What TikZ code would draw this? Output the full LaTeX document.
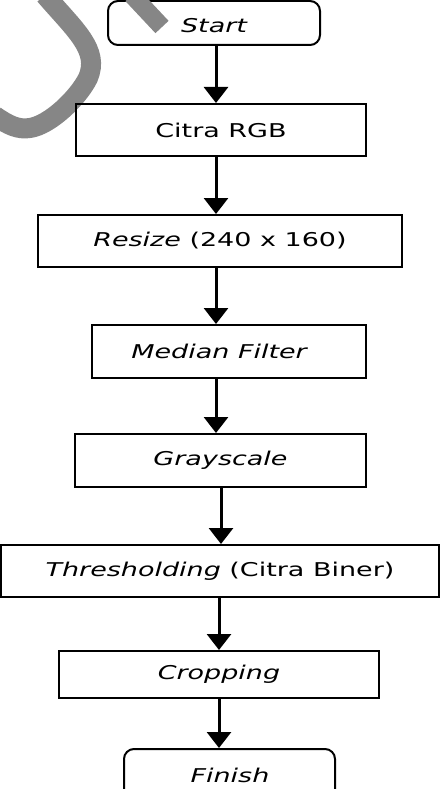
\documentclass[tikz,border=0pt]{standalone}
\usepackage{fontspec}
\setmainfont{DejaVu Sans}
\usetikzlibrary{arrows.meta}
\newcommand{\wtxt}[1]{\scalebox{1.42}[1]{#1}}
\tikzset{
  box/.style={draw=black, line width=2pt, rectangle, inner sep=0pt, font=\fontsize{19}{22}\selectfont},
  term/.style={box, rounded corners=10pt},
  lbl/.style={inner sep=0pt, font=\fontsize{19}{22}\selectfont},
  arr/.style={line width=3pt, -{Triangle[width=24pt,length=16pt]}},
  wmark/.style={draw=gray!95, line width=20pt}
}
\begin{document}
\begin{tikzpicture}[x=1pt,y=-1pt]
\useasboundingbox (0,0) rectangle (442,789);
\clip (0,0) rectangle (442,789);
\fill[white] (0,0) rectangle (442,789);
% watermark stroke
\draw[wmark] (45,-5) .. controls (75,30) and (100,50) .. (88,78) .. controls (78,98) and (50,125) .. (30,128) .. controls (18,130) and (8,125) .. (-5,116);
\node[term, minimum width=212pt, minimum height=44pt] (start) at (214,23) {};
\node[lbl, anchor=base] (startt) at (214,33) {\wtxt{\itshape Start}};
\draw[wmark, line width=18pt] (132,-5) -- (162,27);
\node[box, minimum width=290pt, minimum height=52pt] (cit) at (221,130) {\wtxt{Citra RGB}};
\node[box, minimum width=364pt, minimum height=52pt] (res) at (220,241) {\wtxt{\textit{Resize} (240 x 160)}};
\node[box, minimum width=274pt, minimum height=53pt] (med) at (229,351.5) {\wtxt{\itshape Median Filter\hspace{14pt}}};
\node[box, minimum width=291pt, minimum height=53pt] (gray) at (220.5,460.5) {\wtxt{\itshape Grayscale}};
\node[box, minimum width=438pt, minimum height=52pt] (thr) at (220,571) {\wtxt{\textit{Thresholding} (Citra Biner)}};
\node[box, minimum width=320pt, minimum height=47pt] (crop) at (219,674.5) {\wtxt{\itshape Cropping}};
\node[term, minimum width=211pt, minimum height=60pt] (fin) at (229.5,779) {};
\node[lbl, anchor=base] (fint) at (230,782) {\wtxt{\itshape Finish}};
\draw[arr] ([xshift=2pt]start.south) -- ([xshift=2pt]start.south |- cit.north);
\draw[arr] ([xshift=-5pt]cit.south) -- ([xshift=-5pt]cit.south |- res.north);
\draw[arr] ([xshift=-4pt]res.south) -- ([xshift=-4pt]res.south |- med.north);
\draw[arr] ([xshift=-13pt]med.south) -- ([xshift=-13pt]med.south |- gray.north);
\draw[arr] ([xshift=0.5pt]gray.south) -- ([xshift=0.5pt]gray.south |- thr.north);
\draw[arr] ([xshift=-1pt]thr.south) -- ([xshift=-1pt]thr.south |- crop.north);
\draw[arr] (crop.south) -- (crop.south |- fin.north);
\end{tikzpicture}
\end{document}
